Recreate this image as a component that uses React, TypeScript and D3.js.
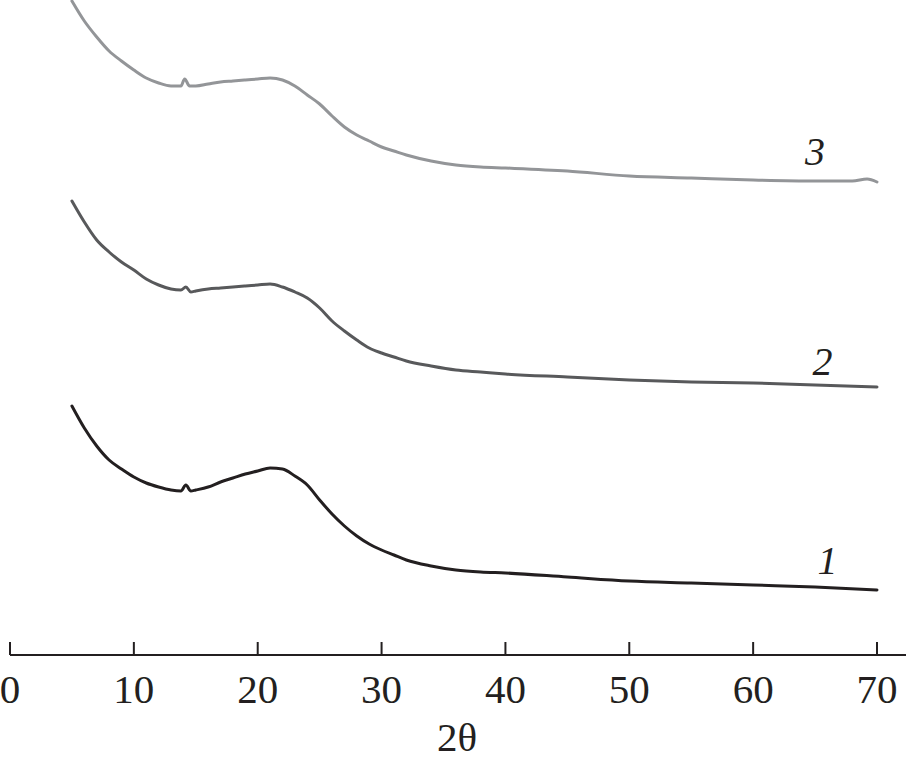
import React from "react";
import * as d3 from "d3";

// 2θ positions (degrees) and intensities (arbitrary units)
const xs1 = [5, 6, 7, 8, 9, 10, 11, 12, 13, 13.8, 14.2, 14.6, 15, 16, 17, 18, 19, 20, 21, 22, 23, 24, 25, 26, 27, 28, 29, 30, 31, 32, 34, 36, 38, 40, 45, 50, 55, 60, 65, 70];
const curve1Y = [406, 428, 446, 460, 469, 477, 483, 487, 490, 491, 485, 491, 490, 487, 482, 478, 474, 471, 468, 469, 476, 485, 500, 514, 526, 536, 544, 550, 555, 560, 566, 570, 572, 573, 577, 581, 583, 585, 587, 590];

const xs2 = [5, 6, 7, 8, 9, 10, 11, 12, 13, 13.8, 14.2, 14.6, 15, 16, 17, 18, 19, 20, 21, 22, 23, 24, 25, 26, 27, 28, 29, 30, 31, 32, 34, 36, 38, 40, 45, 50, 55, 60, 65, 70];
const curve2Y = [201, 222, 240, 252, 262, 270, 279, 285, 289, 290, 287, 292, 291, 289, 288, 287, 286, 285, 284, 287, 292, 298, 308, 321, 331, 340, 348, 353, 357, 361, 366, 370, 372, 374, 377, 380, 382, 383, 385, 387];

const xs3 = [5, 6, 7, 8, 9, 10, 11, 12, 13, 13.8, 14.1, 14.5, 15, 16, 17, 18, 19, 20, 21, 22, 23, 24, 25, 26, 27, 28, 29, 30, 31, 32, 34, 36, 38, 40, 45, 50, 55, 60, 65, 68, 69.2, 70];
const curve3Y = [1, 21, 37, 51, 61, 70, 78, 83, 86, 86, 79, 86, 86, 84, 82, 81, 80, 79, 78, 80, 86, 95, 104, 116, 127, 135, 141, 147, 151, 155, 161, 165, 167, 168, 171, 176, 178, 180, 181, 181, 179, 182];

// intensities as (baseline - picture offset), i.e. higher = more intense
const toI = (arr: number[]) => arr.map((v) => 655 - v);

const seriesNames = ["1", "2", "3"];
const seriesColors = ["#231f20", "#58595b", "#939598"];
const labelX = [66.0, 65.6, 65.0];
const labelI = [81, 280, 490];

const xTicks = [0, 10, 20, 30, 40, 50, 60, 70];
const xTitle = "2θ";

export default function App() {
  const W = 906;
  const H = 764;
  const x = d3.scaleLinear().domain([0, 70]).range([10, 877]);
  const y = d3.scaleLinear().domain([0, 655]).range([655, 0]);
  const axisY = 655;

  const series = [
    { xs: xs1, ys: toI(curve1Y) },
    { xs: xs2, ys: toI(curve2Y) },
    { xs: xs3, ys: toI(curve3Y) },
  ];

  const line = d3
    .line<[number, number]>()
    .x((d) => x(d[0]))
    .y((d) => y(d[1]))
    .curve(d3.curveMonotoneX);

  return (
    <svg
      width={W}
      height={H}
      style={{ position: "absolute", left: 0, top: 0, background: "#fff" }}
      fontFamily="'Liberation Serif', 'Times New Roman', serif"
    >
      <rect x={0} y={0} width={W} height={H} fill="#fff" />
      {series.map((s, i) => (
        <path
          key={i}
          d={line(s.xs.map((v, j) => [v, s.ys[j]] as [number, number])) || ""}
          fill="none"
          stroke={seriesColors[i]}
          strokeWidth={3}
          strokeLinejoin="round"
          strokeLinecap="round"
        />
      ))}
      {seriesNames.map((n, i) => (
        <text
          key={n}
          x={x(labelX[i])}
          y={y(labelI[i])}
          textAnchor="middle"
          fontSize={40}
          fontStyle="italic"
          fill="#231f20"
        >
          {n}
        </text>
      ))}
      <line x1={x(0)} x2={906} y1={axisY} y2={axisY} stroke="#231f20" strokeWidth={2} />
      {xTicks.map((t) => (
        <g key={t}>
          <line x1={x(t)} x2={x(t)} y1={axisY} y2={axisY - 13} stroke="#231f20" strokeWidth={2} />
          <text x={x(t)} y={703} textAnchor="middle" fontSize={41} fill="#231f20">
            {t}
          </text>
        </g>
      ))}
      <text x={457} y={751} textAnchor="middle" fontSize={41} fill="#231f20">
        {xTitle}
      </text>
    </svg>
  );
}
